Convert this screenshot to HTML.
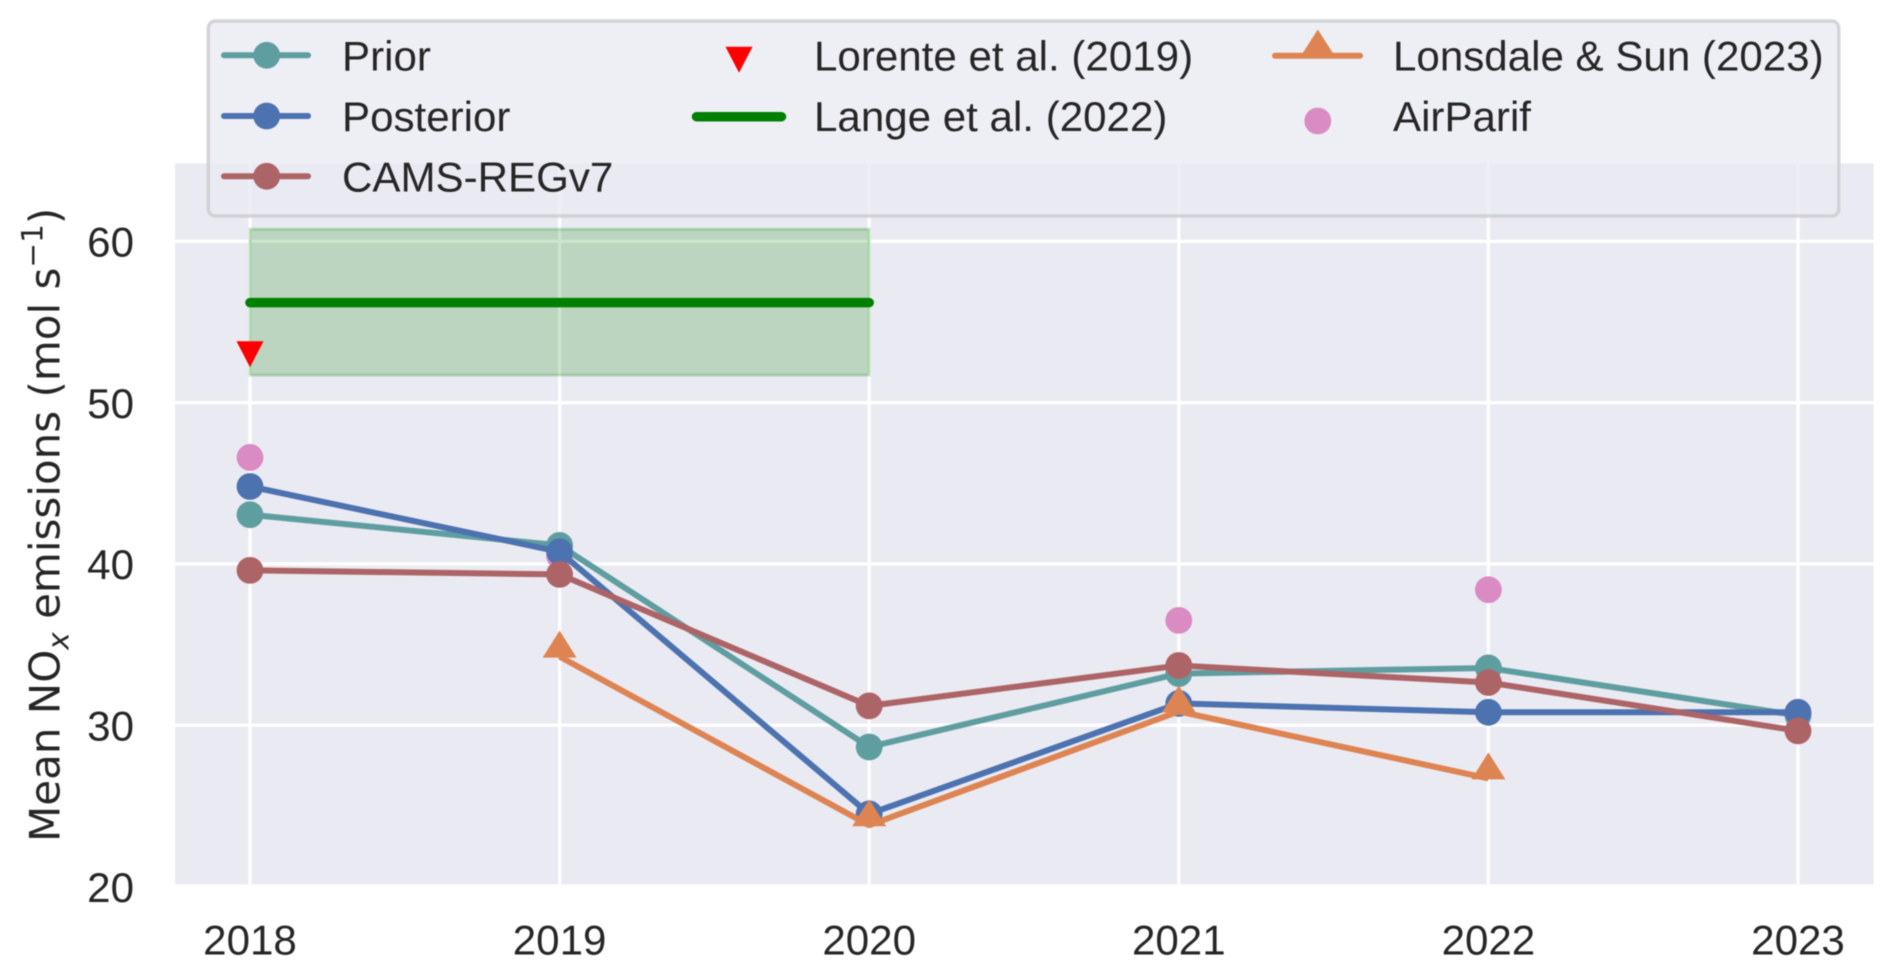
<!DOCTYPE html>
<html lang="en">
<head>
<meta charset="utf-8">
<title>Mean NOx emissions 2018–2023</title>
<style>
  html, body { margin: 0; padding: 0; background: #fff; }
  #chart { display: block; width: 1892px; height: 975px; filter: blur(0.45px); }
  text { font-family: "Liberation Sans", sans-serif; fill: #262626; font-size: 42.1px; }
  .ylab, .ylab tspan { font-family: "DejaVu Sans", sans-serif; font-size: 42px; }
</style>
</head>
<body>
<svg id="chart" xmlns="http://www.w3.org/2000/svg" width="1892" height="975" viewBox="0 0 1892 975">
  <rect x="0" y="0" width="1892" height="975" fill="#ffffff"/>
  <rect x="175" y="163.5" width="1698.6" height="720.8" fill="#EAEAF2"/>
  <g id="grid"></g>
  <g id="band"></g>
  <g id="marks"></g>
  <g id="ticks"></g>

  <text class="ylab" transform="translate(59.5 842) rotate(-90)">Mean NO<tspan dy="9" style="font-size:29.5px;font-style:italic">x</tspan><tspan dy="-9"> emissions (mol s</tspan><tspan dy="-17" style="font-size:29.5px">−1</tspan><tspan dy="17">)</tspan></text>

  <g>
    <rect x="208.3" y="21" width="1630.5" height="195" rx="7" ry="7" fill="#EAEAF2" fill-opacity="0.8" stroke="#CCCCCC" stroke-opacity="0.8" stroke-width="3.4"/>

    <g>
      <line x1="224" x2="308" y1="55.3" y2="55.3" stroke="#5F9EA0" stroke-width="6" stroke-linecap="round"/>
      <circle cx="266.7" cy="55.3" r="13.4" fill="#5F9EA0"/>
      <text x="342" y="70.5">Prior</text>
    </g>
    <g>
      <line x1="224" x2="308" y1="116" y2="116" stroke="#4C72B0" stroke-width="6" stroke-linecap="round"/>
      <circle cx="266.7" cy="116" r="13.4" fill="#4C72B0"/>
      <text x="342" y="131">Posterior</text>
    </g>
    <g>
      <line x1="224" x2="308" y1="176.3" y2="176.3" stroke="#AD6466" stroke-width="6" stroke-linecap="round"/>
      <circle cx="266.7" cy="176.3" r="13.4" fill="#AD6466"/>
      <text x="342" y="191.5">CAMS-REGv7</text>
    </g>
    <g>
      <polygon points="725.5,46.7 752.5,46.7 739,72.7" fill="#FF0000"/>
      <text x="814" y="70.5">Lorente et al. (2019)</text>
    </g>
    <g>
      <line x1="696.5" x2="781.5" y1="116.7" y2="116.7" stroke="#008000" stroke-width="9.5" stroke-linecap="round"/>
      <text x="814" y="131">Lange et al. (2022)</text>
    </g>
    <g>
      <line x1="1275" x2="1360" y1="55.7" y2="55.7" stroke="#DD8452" stroke-width="6" stroke-linecap="round"/>
      <polygon points="1317.8,29.5 1301,55.7 1334.6,55.7" fill="#DD8452"/>
      <text x="1393" y="70.5">Lonsdale &amp; Sun (2023)</text>
    </g>
    <g>
      <circle cx="1317.8" cy="121" r="13.4" fill="#DA8BC3"/>
      <text x="1393" y="131">AirParif</text>
    </g>
  </g>
</svg>

<script>
const xTickLabels = [2018, 2019, 2020, 2021, 2022, 2023];
const yTickLabels = [20, 30, 40, 50, 60];
const years = [2018, 2019, 2020, 2021, 2022, 2023];
const priorValues = [43.05, 41.15, 28.65, 33.2, 33.55, 30.6];
const posteriorValues = [44.8, 40.75, 24.5, 31.35, 30.8, 30.8];
const camsValues = [39.6, 39.35, 31.2, 33.7, 32.65, 29.65];
const lonsdaleYears = [2019, 2020, 2021, 2022];
const lonsdaleValues = [34.25, 23.8, 30.85, 26.7];
const airparifYears = [2018, 2019, 2021, 2022];
const airparifValues = [46.6, 40.5, 36.5, 38.4];
const lorenteYears = [2018];
const lorenteValues = [53.0];
const langeYears = [2018, 2020];
const langeValue = [56.2];
const langeLower = [51.7];
const langeUpper = [60.75];

const NS = 'http://www.w3.org/2000/svg';
function xScale(year) { return 250 + (year - 2018) * 309.6; }
function yScale(v) { return 886.5 - (v - 20) * 16.13; }
function make(tag, attrs, parent) {
  const el = document.createElementNS(NS, tag);
  for (const k in attrs) el.setAttribute(k, attrs[k]);
  parent.appendChild(el);
  return el;
}

const grid = document.getElementById('grid');
const band = document.getElementById('band');
const marks = document.getElementById('marks');
const ticks = document.getElementById('ticks');

xTickLabels.forEach(function (t) {
  const line = make('line', { x1: xScale(t), x2: xScale(t), y1: 163.5, y2: 884.3, stroke: '#ffffff', 'stroke-width': 3.2 }, grid);
  
  
  const label = make('text', { x: xScale(t), y: 954.3, 'text-anchor': 'middle' }, ticks);
  label.textContent = String(t);
  
  
});

yTickLabels.forEach(function (t) {
  const label = make('text', { x: 134, y: yScale(t) + 15.3, 'text-anchor': 'end' }, ticks);
  label.textContent = String(t);
  
  
  if (yScale(t) < 884) {
    const line = make('line', { x1: 175, x2: 1873.6, y1: yScale(t), y2: yScale(t), stroke: '#ffffff', 'stroke-width': 3.2 }, grid);
    
    
  }
});

const bandRect = make('rect', {
  x: xScale(langeYears[0]),
  y: yScale(langeUpper[0]),
  width: xScale(langeYears[1]) - xScale(langeYears[0]),
  height: yScale(langeLower[0]) - yScale(langeUpper[0]),
  fill: '#008000', 'fill-opacity': 0.2, stroke: '#008000', 'stroke-opacity': 0.2, 'stroke-width': 3
}, band);



function drawCircles(xs, vals, color, name) {
  xs.forEach(function (x, i) {
    const c = make('circle', { cx: xScale(x), cy: yScale(vals[i]), r: 13.4, fill: color }, marks);
    
    
  });
}
function drawLine(xs, vals, color, name) {
  const pts = xs.map(function (x, i) { return xScale(x) + ',' + yScale(vals[i]); }).join(' ');
  const p = make('polyline', { points: pts, fill: 'none', stroke: color, 'stroke-width': 6, 'stroke-linejoin': 'round' }, marks);
  
  
}

drawCircles(airparifYears, airparifValues, '#DA8BC3', 'airparif-point');

drawLine(years, priorValues, '#5F9EA0', 'prior-line');
drawCircles(years, priorValues, '#5F9EA0', 'prior-point');

drawLine(years, posteriorValues, '#4C72B0', 'posterior-line');
drawCircles(years, posteriorValues, '#4C72B0', 'posterior-point');

drawLine(years, camsValues, '#AD6466', 'cams-regv7-line');
drawCircles(years, camsValues, '#AD6466', 'cams-regv7-point');

lorenteYears.forEach(function (x, i) {
  const px = xScale(x), py = yScale(lorenteValues[i]);
  const tri = make('polygon', { points: (px - 13.5) + ',' + (py - 13) + ' ' + (px + 13.5) + ',' + (py - 13) + ' ' + px + ',' + (py + 13), fill: '#FF0000' }, marks);
  
  
});

const langeLine = make('line', {
  x1: xScale(langeYears[0]), x2: xScale(langeYears[1]),
  y1: yScale(langeValue[0]), y2: yScale(langeValue[0]),
  stroke: '#008000', 'stroke-width': 9.5, 'stroke-linecap': 'round'
}, marks);



drawLine(lonsdaleYears, lonsdaleValues, '#DD8452', 'lonsdale-sun-line');
lonsdaleYears.forEach(function (x, i) {
  const px = xScale(x), py = yScale(lonsdaleValues[i]);
  const tri = make('polygon', { points: px + ',' + (py - 26) + ' ' + (px - 17) + ',' + (py + 1) + ' ' + (px + 17) + ',' + (py + 1), fill: '#DD8452' }, marks);
  
  
});
</script>
</body>
</html>
